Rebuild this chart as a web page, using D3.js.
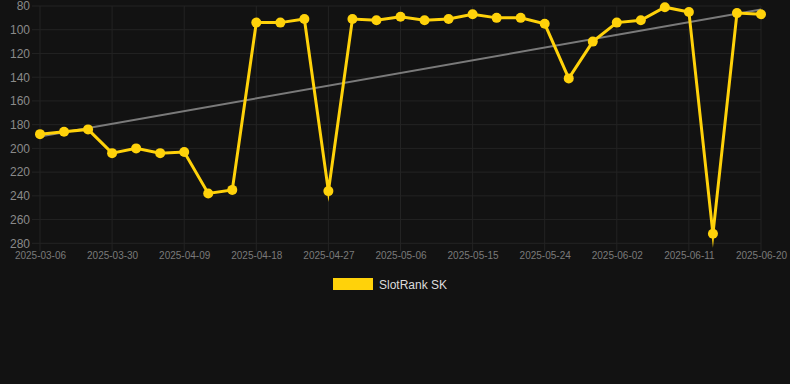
<!DOCTYPE html>
<html><head><meta charset="utf-8">
<script src="https://cdn.jsdelivr.net/npm/d3@7"></script>
<style>
html,body{margin:0;padding:0;background:#121212;}
svg{display:block;}
</style></head>
<body>
<svg id="chart" width="790" height="384"></svg>
<script>
const categories = ["2025-03-06","2025-03-14","2025-03-22","2025-03-30","2025-04-02","2025-04-06","2025-04-09","2025-04-12","2025-04-15","2025-04-18","2025-04-21","2025-04-24","2025-04-27","2025-04-30","2025-05-03","2025-05-06","2025-05-09","2025-05-12","2025-05-15","2025-05-18","2025-05-21","2025-05-24","2025-05-27","2025-05-30","2025-06-02","2025-06-05","2025-06-08","2025-06-11","2025-06-14","2025-06-17","2025-06-20"];
const rankValues = [188,186,184,204,200,204,203,238,235,94,94,91,236,91,92,89,92,91,87,90,90,95,141,110,94,92,81,85,272,86,87];
const trendValues = [190,83];
const yTicks = [80,100,120,140,160,180,200,220,240,260,280];
const seriesName = "SlotRank SK";

(function(){
const svg = d3.select("#chart");
const mLeft = 40, mRight = 761, mTop = 6, mBottom = 243.3;
const x = d3.scalePoint().domain(categories).range([mLeft, mRight]);
const y = d3.scaleLinear().domain([80, 280]).range([mTop, mBottom]);

const tickCats = categories.filter((d,i)=> i % 3 === 0);

const g = svg.append("g");
g.selectAll(".hg").data(yTicks).enter().append("line")
  .attr("x1", mLeft - 8).attr("x2", mRight)
  .attr("y1", d=>y(d)).attr("y2", d=>y(d))
  .attr("stroke", "#232323").attr("stroke-width", 1);
g.selectAll(".vg").data(tickCats).enter().append("line")
  .attr("x1", d=>x(d)).attr("x2", d=>x(d))
  .attr("y1", mTop).attr("y2", mBottom + 8)
  .attr("stroke", "#232323").attr("stroke-width", 1);

const yAxis = d3.axisLeft(y).tickValues(yTicks).tickSize(0).tickPadding(10);
const ya = svg.append("g").attr("transform", `translate(${mLeft},0)`).call(yAxis);
ya.select(".domain").remove();
ya.selectAll("text").attr("fill", "#8a8a8a").style("font-family", "Arial, 'Liberation Sans', sans-serif").style("font-size", "12px");

const xAxis = d3.axisBottom(x).tickValues(tickCats).tickSize(0).tickPadding(9);
const xa = svg.append("g").attr("transform", `translate(0,${mBottom})`).call(xAxis);
xa.select(".domain").remove();
xa.selectAll("text").attr("fill", "#7a7a7a").style("font-family", "Arial, 'Liberation Sans', sans-serif").style("font-size", "10px");

const trendCats = [categories[0], categories[categories.length-1]];
svg.append("path")
  .datum(trendValues.map((v,i)=>({c:trendCats[i], v})))
  .attr("d", d3.line().x(d=>x(d.c)).y(d=>y(d.v)))
  .attr("fill","none").attr("stroke","#7a7a7a").attr("stroke-width",2);

const data = categories.map((c,i)=>({c, v: rankValues[i]}));
svg.append("path").datum(data)
  .attr("d", d3.line().x(d=>x(d.c)).y(d=>y(d.v)))
  .attr("fill","none").attr("stroke","#FFD20A").attr("stroke-width",3)
  .attr("stroke-linejoin","miter").attr("stroke-miterlimit",10);

svg.selectAll(".pt").data(data).enter().append("circle")
  .attr("cx", d=>x(d.c)).attr("cy", d=>y(d.v)).attr("r", 5)
  .attr("fill","#FFD20A");

const lg = svg.append("g");
lg.append("rect").attr("x",333).attr("y",278).attr("width",40).attr("height",12).attr("fill","#FFD20A");
lg.append("text").attr("x",379).attr("y",288.5).text(seriesName)
  .attr("fill","#dcdcdc").style("font-family","Arial, 'Liberation Sans', sans-serif").style("font-size","12px");
})();
</script>
</body></html>
